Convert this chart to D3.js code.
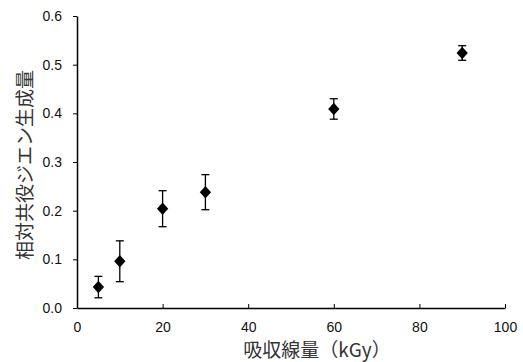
<!DOCTYPE html>
<meta charset="utf-8">
<html>
<head>
    <title>相対共役ジエン生成量</title>
    <style>
        body { margin: 0; background: #fff; }
        text { font-family: "Liberation Sans", Arial, sans-serif; }
    </style>
</head>
<body>
    <svg></svg>
    <script src="https://cdn.jsdelivr.net/npm/d3@7"></script>
    <script>
        // Data
        var doses = [5, 10, 20, 30, 60, 90];
        var yields = [0.043, 0.096, 0.204, 0.238, 0.409, 0.524];
        var errors = [0.022, 0.042, 0.037, 0.036, 0.021, 0.015];
        var xTicks = [0, 20, 40, 60, 80, 100];
        var yTicks = [0, 0.1, 0.2, 0.3, 0.4, 0.5, 0.6];

        var width = 523, height = 362;
        var margin = { left: 77, right: 18, top: 16, bottom: 54 };

        var svg = d3.select('svg')
            .attr('width', width)
            .attr('height', height);

        var x = d3.scaleLinear().domain([0, 100]).range([margin.left, width - margin.right]);
        var y = d3.scaleLinear().domain([0, 0.6]).range([height - margin.bottom, margin.top]);

        // x axis, ticks point inward
        var xAxis = svg.append('g')
            .attr('transform', `translate(0, ${y(0)})`)
            .call(d3.axisBottom(x).tickValues(xTicks).tickSizeInner(-4).tickSizeOuter(0).tickPadding(14));
        xAxis.select('.domain').attr('stroke-width', 1.5);
        xAxis.selectAll('text').attr('font-size', 14).attr('fill', '#111');

        // y axis, ticks point outward
        var yAxis = svg.append('g')
            .attr('transform', `translate(${x(0)}, 0)`)
            .call(d3.axisLeft(y).tickValues(yTicks).tickFormat(d3.format('.1f')).tickSizeInner(4).tickSizeOuter(0).tickPadding(11));
        yAxis.select('.domain').attr('stroke-width', 1.5);
        yAxis.selectAll('text').attr('font-size', 14).attr('fill', '#111');

        // Error bars
        var pts = doses.map((d, i) => ({ x: d, y: yields[i], e: errors[i] }));
        var cap = 4;
        var eb = svg.append('g').attr('stroke', '#000').attr('stroke-width', 1.3);
        eb.selectAll('line.v').data(pts).enter().append('line')
            .attr('x1', d => x(d.x)).attr('x2', d => x(d.x))
            .attr('y1', d => y(d.y - d.e)).attr('y2', d => y(d.y + d.e));
        eb.selectAll('line.t').data(pts).enter().append('line')
            .attr('x1', d => x(d.x) - cap).attr('x2', d => x(d.x) + cap)
            .attr('y1', d => y(d.y + d.e)).attr('y2', d => y(d.y + d.e));
        eb.selectAll('line.b').data(pts).enter().append('line')
            .attr('x1', d => x(d.x) - cap).attr('x2', d => x(d.x) + cap)
            .attr('y1', d => y(d.y - d.e)).attr('y2', d => y(d.y - d.e));

        // Diamond markers
        var diamond = d3.symbol().type(d3.symbolDiamond2).size(90);
        svg.append('g')
            .selectAll('path')
            .data(pts)
            .enter()
            .append('path')
            .attr('d', diamond)
            .attr('transform', d => `translate(${x(d.x)}, ${y(d.y)}) scale(0.95, 1.05)`)
            .attr('fill', '#000');

        // Axis titles
        svg.append('text')
            .attr('x', 317).attr('y', 357)
            .attr('text-anchor', 'middle')
            .attr('font-size', 19)
            .attr('fill', '#333')
            .style('font-family', '"Noto Sans CJK JP", sans-serif')
            .text('吸収線量（kGy）');

        svg.append('text')
            .attr('transform', `translate(32, ${(y(0) + y(0.6)) / 2 + 3}) rotate(-90)`)
            .attr('text-anchor', 'middle')
            .attr('font-size', 19)
            .attr('fill', '#333')
            .style('font-family', '"Noto Sans CJK JP", sans-serif')
            .text('相対共役ジエン生成量');
    </script>
</body>
</html>
